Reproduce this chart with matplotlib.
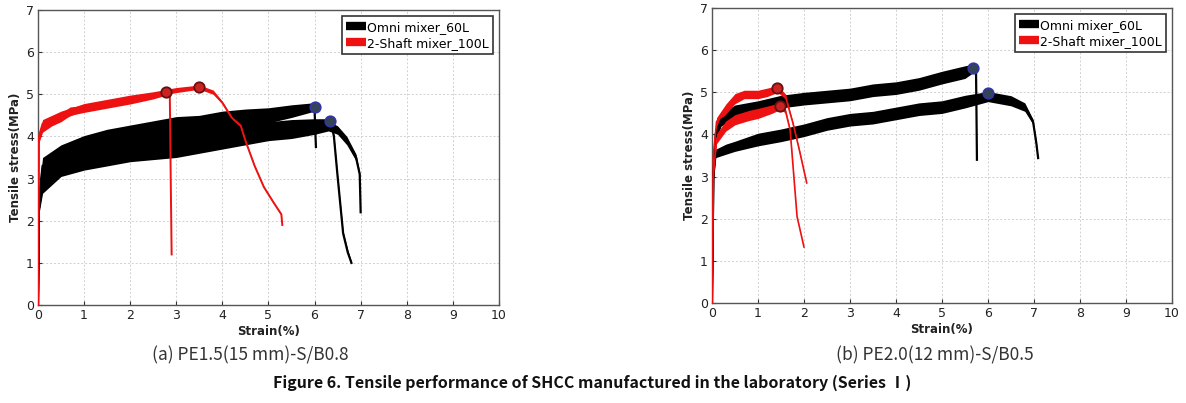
import matplotlib
matplotlib.use("Agg")
import matplotlib.pyplot as plt
import numpy as np
from matplotlib.lines import Line2D

# ---------------- data ----------------
# Panel (a) PE1.5(15 mm)-S/B0.8
a_black1_x = [0, 0.02, 0.1, 0.5, 1.0, 1.5, 2.0, 2.5, 3.0, 3.5, 4.0, 4.5, 5.0, 5.5, 6.0, 6.01, 6.03]
a_black1_y = [0, 2.5, 3.3, 3.6, 3.8, 3.95, 4.05, 4.15, 4.25, 4.3, 4.4, 4.45, 4.5, 4.6, 4.7, 4.3, 3.75]
a_black1_s = [0, 0.2, 0.2, 0.2, 0.22, 0.22, 0.22, 0.22, 0.22, 0.2, 0.2, 0.2, 0.18, 0.15, 0.1, 0, 0]

a_black2_x = [0, 0.02, 0.1, 0.5, 1.0, 1.5, 2.0, 2.5, 3.0, 3.5, 4.0, 4.5, 5.0, 5.5, 6.0, 6.35, 6.42, 6.5, 6.62, 6.72, 6.8]
a_black2_y = [0, 2.4, 3.0, 3.35, 3.5, 3.6, 3.7, 3.8, 3.85, 3.95, 4.05, 4.1, 4.2, 4.25, 4.3, 4.37, 4.0, 3.05, 1.7, 1.25, 1.0]
a_black2_s = [0, 0.2, 0.2, 0.2, 0.2, 0.2, 0.2, 0.2, 0.2, 0.2, 0.18, 0.18, 0.15, 0.15, 0.12, 0.05, 0.03, 0.03, 0.05, 0.06, 0.03]

a_black3_x = [0, 0.02, 0.1, 0.5, 1.0, 1.5, 2.0, 2.5, 3.0, 3.5, 4.0, 4.5, 5.0, 5.5, 6.0, 6.3, 6.5, 6.7, 6.9, 6.98, 7.0]
a_black3_y = [0, 2.3, 2.8, 3.2, 3.35, 3.45, 3.55, 3.6, 3.65, 3.75, 3.85, 3.95, 4.05, 4.1, 4.2, 4.25, 4.15, 3.9, 3.5, 3.1, 2.2]
a_black3_s = [0, 0.15, 0.15, 0.15, 0.15, 0.15, 0.15, 0.15, 0.15, 0.15, 0.15, 0.15, 0.15, 0.15, 0.15, 0.12, 0.1, 0.1, 0.08, 0.05, 0]

a_red1_x = [0, 0.02, 0.1, 0.3, 0.5, 0.7, 1.0, 1.5, 2.0, 2.5, 2.78, 2.86, 2.88, 2.9]
a_red1_y = [0, 3.9, 4.2, 4.35, 4.45, 4.6, 4.65, 4.75, 4.85, 4.95, 5.03, 5.0, 3.0, 1.2]
a_red1_s = [0, 0.05, 0.1, 0.1, 0.1, 0.1, 0.08, 0.08, 0.08, 0.06, 0.05, 0.03, 0.02, 0]

a_red2_x = [0, 0.02, 0.1, 0.5, 1.0, 1.5, 2.0, 2.5, 3.0, 3.5, 3.8, 4.0, 4.2, 4.4, 4.5, 4.7, 4.9, 5.1, 5.25, 5.28, 5.3]
a_red2_y = [0, 4.0, 4.3, 4.5, 4.7, 4.8, 4.9, 5.0, 5.1, 5.17, 5.05, 4.8, 4.45, 4.25, 3.9, 3.3, 2.8, 2.45, 2.2, 2.15, 1.9]
a_red2_s = [0, 0.05, 0.1, 0.1, 0.08, 0.08, 0.08, 0.06, 0.06, 0.05, 0.05, 0.03, 0.03, 0.03, 0.02, 0.02, 0.02, 0.02, 0.02, 0.02, 0]

a_black_peaks_x = [6.0, 6.33]
a_black_peaks_y = [4.7, 4.37]
a_red_peaks_x = [2.77, 3.49]
a_red_peaks_y = [5.05, 5.17]

# Panel (b) PE2.0(12 mm)-S/B0.5
b_black1_x = [0, 0.03, 0.08, 0.2, 0.5, 1.0, 1.5, 2.0, 2.5, 3.0, 3.5, 4.0, 4.5, 5.0, 5.5, 5.68, 5.74, 5.75, 5.76]
b_black1_y = [0, 3.0, 4.0, 4.35, 4.55, 4.65, 4.78, 4.85, 4.9, 4.95, 5.05, 5.1, 5.2, 5.35, 5.48, 5.57, 5.5, 4.5, 3.4]
b_black1_s = [0, 0.1, 0.15, 0.15, 0.15, 0.15, 0.15, 0.15, 0.15, 0.15, 0.15, 0.15, 0.15, 0.15, 0.15, 0.1, 0.05, 0, 0]

b_black2_x = [0, 0.03, 0.08, 0.3, 0.5, 1.0, 1.5, 2.0, 2.5, 3.0, 3.5, 4.0, 4.5, 5.0, 5.5, 6.0, 6.5, 6.8, 6.98, 7.05, 7.09]
b_black2_y = [0, 3.0, 3.55, 3.65, 3.72, 3.88, 3.98, 4.1, 4.25, 4.35, 4.4, 4.5, 4.6, 4.65, 4.78, 4.9, 4.8, 4.65, 4.3, 3.8, 3.44]
b_black2_s = [0, 0.1, 0.1, 0.12, 0.12, 0.15, 0.15, 0.15, 0.15, 0.15, 0.15, 0.15, 0.15, 0.15, 0.15, 0.12, 0.12, 0.1, 0.06, 0.04, 0]

b_red1_x = [0, 0.03, 0.1, 0.3, 0.5, 0.7, 1.0, 1.2, 1.43, 1.6, 1.7, 1.76, 1.9, 2.06]
b_red1_y = [0, 3.5, 4.3, 4.6, 4.85, 4.95, 4.95, 5.0, 5.08, 4.9, 4.5, 4.27, 3.63, 2.85]
b_red1_s = [0, 0.05, 0.1, 0.12, 0.12, 0.1, 0.1, 0.1, 0.08, 0.06, 0.04, 0.03, 0.02, 0]

b_red2_x = [0, 0.03, 0.1, 0.3, 0.5, 0.8, 1.0, 1.3, 1.5, 1.6, 1.7, 1.85, 2.0]
b_red2_y = [0, 3.0, 3.9, 4.2, 4.35, 4.45, 4.5, 4.6, 4.68, 4.55, 4.1, 2.05, 1.33]
b_red2_s = [0, 0.05, 0.12, 0.12, 0.12, 0.12, 0.12, 0.1, 0.08, 0.05, 0.03, 0.01, 0]

b_black_peaks_x = [5.67, 6.0]
b_black_peaks_y = [5.58, 4.98]
b_red_peaks_x = [1.41, 1.48]
b_red_peaks_y = [5.1, 4.68]

legend_labels = ["Omni mixer_60L", "2-Shaft mixer_100L"]
sub_captions = ["(a) PE1.5(15 mm)-S/B0.8", "(b) PE2.0(12 mm)-S/B0.5"]
caption = "Figure 6. Tensile performance of SHCC manufactured in the laboratory (Series \u2160)"
x_ticks = list(range(0, 11))
y_ticks = list(range(0, 8))

# ---------------- drawing ----------------
fig = plt.figure(figsize=(11.86, 4.03), dpi=100)

def draw_spec(ax, x, y, s, color, lw):
    x = np.asarray(x, float); y = np.asarray(y, float); s = np.asarray(s, float)
    ax.fill_between(x, y - s, y + s, color=color, lw=0, zorder=2)
    ax.plot(x, y, color=color, lw=lw, zorder=3, solid_joinstyle="miter")

def style_axes(ax):
    ax.set_xlim(0, 10)
    ax.set_ylim(0, 7)
    ax.set_xticks(x_ticks)
    ax.set_yticks(y_ticks)
    ax.grid(True, color="#d0d0d0", linestyle=(0, (2, 2)), linewidth=0.7, zorder=0)
    for sp in ax.spines.values():
        sp.set_color("#555555")
        sp.set_linewidth(1.0)
    ax.tick_params(direction="in", length=3, width=0.8, labelsize=9, colors="#333333", pad=3)
    for lab in ax.get_xticklabels() + ax.get_yticklabels():
        lab.set_color("#222222")
    ax.set_xlabel("Strain(%)", fontsize=8.5, fontweight="bold", labelpad=2, color="#222222")
    ax.set_ylabel("Tensile stress(MPa)", fontsize=8.5, fontweight="bold", labelpad=3, color="#222222")
    handles = [Line2D([0], [0], color="black", lw=6, solid_capstyle="butt"),
               Line2D([0], [0], color="#ee1111", lw=6, solid_capstyle="butt")]
    leg = ax.legend(handles, legend_labels, loc="upper right", fontsize=9,
                    handlelength=1.6, handletextpad=0.05, borderpad=0.35, labelspacing=0.25,
                    fancybox=False, framealpha=1, borderaxespad=0.5)
    leg.get_frame().set_edgecolor("#333333")
    leg.get_frame().set_linewidth(1.2)

RED = "#ee1111"

axa = fig.add_axes([0.032, 0.2432, 0.3887, 0.732])
style_axes(axa)
for x, y, s in [(a_black1_x, a_black1_y, a_black1_s),
                (a_black2_x, a_black2_y, a_black2_s),
                (a_black3_x, a_black3_y, a_black3_s)]:
    draw_spec(axa, x, y, s, "black", 1.6)
for x, y, s in [(a_red1_x, a_red1_y, a_red1_s), (a_red2_x, a_red2_y, a_red2_s)]:
    draw_spec(axa, x, y, s, RED, 1.4)
axa.plot(a_black_peaks_x, a_black_peaks_y, "o", ms=7.5, mfc="#334455", mec="#3333aa", mew=1.3, ls="none", zorder=5)
axa.plot(a_red_peaks_x, a_red_peaks_y, "o", ms=7.5, mfc="#cc2222", mec="#661111", mew=1.3, ls="none", zorder=5)

axb = fig.add_axes([0.6003, 0.248, 0.3879, 0.732])
style_axes(axb)
for x, y, s in [(b_black1_x, b_black1_y, b_black1_s), (b_black2_x, b_black2_y, b_black2_s)]:
    draw_spec(axb, x, y, s, "black", 1.6)
for x, y, s in [(b_red1_x, b_red1_y, b_red1_s), (b_red2_x, b_red2_y, b_red2_s)]:
    draw_spec(axb, x, y, s, RED, 1.2)
axb.plot(b_black_peaks_x, b_black_peaks_y, "o", ms=7.5, mfc="#334455", mec="#3333aa", mew=1.3, ls="none", zorder=5)
axb.plot(b_red_peaks_x, b_red_peaks_y, "o", ms=7.5, mfc="#cc2222", mec="#661111", mew=1.3, ls="none", zorder=5)

cap_family = ["Noto Sans CJK KR", "DejaVu Sans"]
fig.text(250 / 1186, 1 - 355 / 403, sub_captions[0], ha="center", va="center",
         fontsize=12.5, family=cap_family, color="#333333")
fig.text(935 / 1186, 1 - 355 / 403, sub_captions[1], ha="center", va="center",
         fontsize=12.5, family=cap_family, color="#333333")
fig.text(592 / 1186, 1 - 383 / 403, caption, ha="center", va="center",
         fontsize=11.5, family=cap_family, fontweight="bold", color="#111111")

fig.savefig("out.png", dpi=100)
